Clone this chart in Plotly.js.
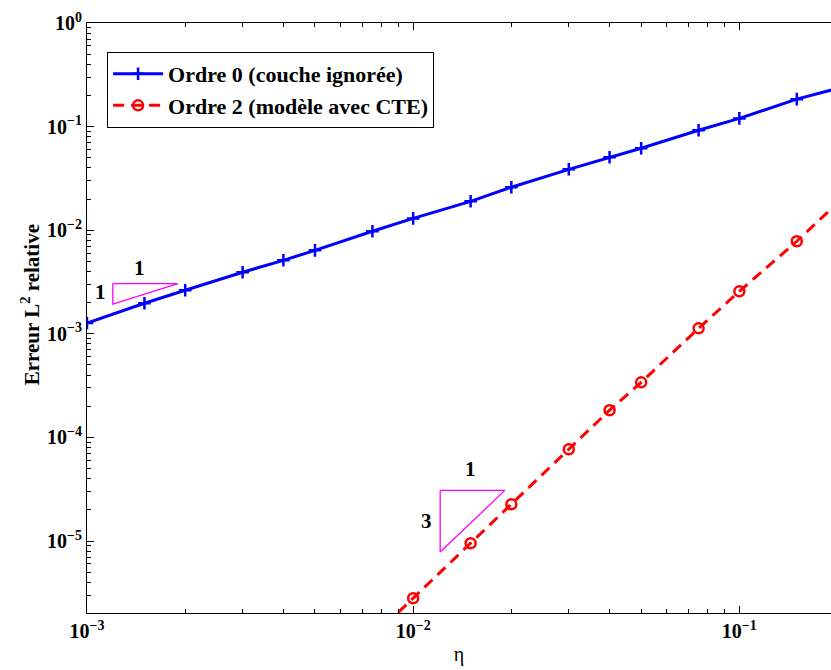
<!DOCTYPE html>
<html>
<head>
<meta charset="utf-8">
<script src="https://cdn.plot.ly/plotly-3.0.1.min.js"></script>
<style>html,body{margin:0;padding:0;background:#fff;}</style>
</head>
<body>
<div id="chart" style="width:831px;height:670px;"></div>
<script>
// Data
const etaOrder0 = [0.001, 0.0015, 0.002, 0.003, 0.004, 0.005, 0.0075, 0.01, 0.015, 0.02, 0.03, 0.04, 0.05, 0.075, 0.1, 0.15, 0.2];
const errOrder0 = [1.27e-3, 1.97e-3, 2.63e-3, 3.93e-3, 5.12e-3, 6.39e-3, 9.76e-3, 1.30e-2, 1.90e-2, 2.60e-2, 3.87e-2, 5.06e-2, 6.18e-2, 9.22e-2, 0.120, 0.184, 0.234];
const etaOrder2 = [0.0075, 0.01, 0.015, 0.02, 0.03, 0.04, 0.05, 0.075, 0.1, 0.15, 0.2];
const errOrder2 = [1.18e-6, 2.80e-6, 9.51e-6, 2.26e-5, 7.67e-5, 1.83e-4, 3.40e-4, 1.13e-3, 2.57e-3, 7.82e-3, 1.83e-2];
const seriesNames = ["Ordre 0 (couche ignorée)", "Ordre 2 (modèle avec CTE)"];
// tick labels
const xTickVals = [0.001, 0.01, 0.1];
const xTickText = ["10<sup>−3</sup>", "10<sup>−2</sup>", "10<sup>−1</sup>"];
const yTickVals = [1e-5, 1e-4, 1e-3, 1e-2, 1e-1, 1];
const yTickText = ["10<sup>−5</sup>", "10<sup>−4</sup>", "10<sup>−3</sup>", "10<sup>−2</sup>", "10<sup>−1</sup>", "10<sup>0</sup>"];
const minorDigits = [2, 3, 4, 5, 6, 7, 8, 9];
const xDecades = [0.001, 0.01, 0.1];
const yDecades = [1e-6, 1e-5, 1e-4, 1e-3, 1e-2, 1e-1];
// slope triangles
const tri1X = [0.0012, 0.0019, 0.0012, 0.0012];
const tri1Y = [3.05e-3, 3.05e-3, 1.93e-3, 3.05e-3];
const tri2X = [0.0121, 0.0191, 0.0121, 0.0121];
const tri2Y = [3.08e-5, 3.08e-5, 7.83e-6, 3.08e-5];
const slopeLabels = [
  {x: 0.00145, y: 4.3e-3, text: "1"},
  {x: 0.0011, y: 2.55e-3, text: "1"},
  {x: 0.0150, y: 5.0e-5, text: "1"},
  {x: 0.0110, y: 1.55e-5, text: "3"}
];

const xMinor = [];
xDecades.forEach(d => minorDigits.forEach(k => xMinor.push(d * k)));
const yMinor = [];
yDecades.forEach(d => minorDigits.forEach(k => yMinor.push(d * k)));

const serif = "'Liberation Serif', 'Times New Roman', serif";

const traces = [
  {x: etaOrder0, y: errOrder0, name: seriesNames[0], type: 'scatter', mode: 'lines+markers',
   line: {color: '#0000ff', width: 3},
   marker: {symbol: 'cross-thin-open', size: 9, line: {color: '#0000ff', width: 2.5}}},
  {x: etaOrder2, y: errOrder2, name: seriesNames[1], type: 'scatter', mode: 'lines+markers',
   line: {color: '#ff0000', width: 3, dash: '11px,7px'},
   marker: {symbol: 'circle-open', size: 10, line: {color: '#ff0000', width: 2.5}}},
  {x: tri1X, y: tri1Y, type: 'scatter', mode: 'lines', showlegend: false, hoverinfo: 'skip',
   line: {color: '#ff00ff', width: 1.3}},
  {x: tri2X, y: tri2Y, type: 'scatter', mode: 'lines', showlegend: false, hoverinfo: 'skip',
   line: {color: '#ff00ff', width: 1.3}}
];

const annotations = slopeLabels.map(s => ({x: Math.log10(s.x), y: Math.log10(s.y), xref: 'x', yref: 'y',
  text: s.text, showarrow: false, font: {family: serif, size: 21, weight: 'bold', color: '#000'}}));
annotations.push({x: -0.0766, y: 0.5215, xref: 'paper', yref: 'paper', textangle: -90,
  text: 'Erreur L<sup>2</sup> relative', showarrow: false, xanchor: 'center', yanchor: 'middle',
  font: {family: serif, size: 21, weight: 'bold', color: '#000'}});

const layout = {
  width: 831, height: 670,
  margin: {l: 87, r: 0, t: 23, b: 57, pad: 0},
  paper_bgcolor: '#fff', plot_bgcolor: '#fff',
  font: {family: serif, color: '#000', size: 18},
  showlegend: true,
  legend: {x: 0.027, y: 0.951, xanchor: 'left', yanchor: 'top',
    bordercolor: '#000', borderwidth: 1, bgcolor: '#fff',
    font: {family: serif, size: 22, weight: 'bold', color: '#000'},
    itemwidth: 50, tracegroupgap: 0},
  xaxis: {type: 'log', range: [-3, -0.719], tickmode: 'array', tickvals: xTickVals, ticktext: xTickText,
    showgrid: false, zeroline: false, showline: true, linecolor: '#000', linewidth: 1,
    mirror: 'ticks', ticks: 'inside', ticklen: 7, tickcolor: '#000',
    minor: {tickmode: 'array', tickvals: xMinor, ticks: 'inside', ticklen: 4, tickcolor: '#000', showgrid: false},
    tickfont: {family: serif, size: 20, weight: 'bold'},
    title: {text: 'η', font: {family: serif, size: 20}, standoff: 5}},
  yaxis: {type: 'log', range: [-5.695, 0], tickmode: 'array', tickvals: yTickVals, ticktext: yTickText,
    showgrid: false, zeroline: false, showline: true, linecolor: '#000', linewidth: 1,
    mirror: false, ticks: 'inside', ticklen: 7, tickcolor: '#000',
    minor: {tickmode: 'array', tickvals: yMinor, ticks: 'inside', ticklen: 4, tickcolor: '#000', showgrid: false},
    tickfont: {family: serif, size: 20, weight: 'bold'}},
  annotations: annotations
};

Plotly.newPlot('chart', traces, layout, {displayModeBar: false, staticPlot: true});
</script>
</body>
</html>
